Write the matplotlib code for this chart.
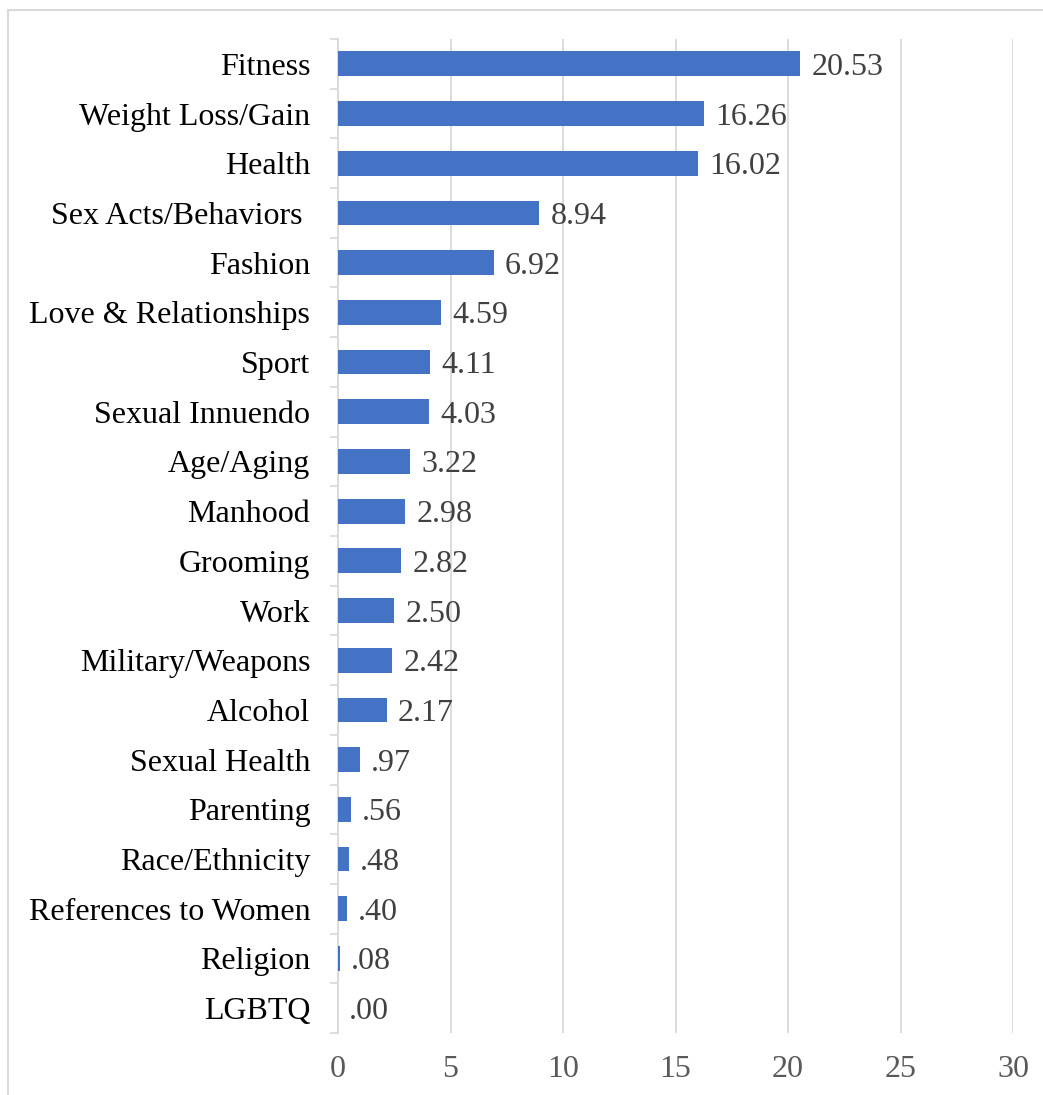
import matplotlib
matplotlib.use("Agg")
import matplotlib.pyplot as plt
from matplotlib.patches import Rectangle

categories = ["Fitness", "Weight Loss/Gain", "Health", "Sex Acts/Behaviors ", "Fashion",
              "Love & Relationships", "Sport", "Sexual Innuendo", "Age/Aging", "Manhood",
              "Grooming", "Work", "Military/Weapons", "Alcohol", "Sexual Health",
              "Parenting", "Race/Ethnicity", "References to Women", "Religion", "LGBTQ"]
values = [20.53, 16.26, 16.02, 8.94, 6.92, 4.59, 4.11, 4.03, 3.22, 2.98,
          2.82, 2.50, 2.42, 2.17, 0.97, 0.56, 0.48, 0.40, 0.08, 0.00]
labels = ["20.53", "16.26", "16.02", "8.94", "6.92", "4.59", "4.11", "4.03", "3.22", "2.98",
          "2.82", "2.50", "2.42", "2.17", ".97", ".56", ".48", ".40", ".08", ".00"]
xticks = [0, 5, 10, 15, 20, 25, 30]

plt.rcParams['font.family'] = ['Liberation Serif', 'DejaVu Serif']

W, H = 1043, 1095
fig = plt.figure(figsize=(W / 100, H / 100), dpi=100)
ax = fig.add_axes([338 / W, 1 - 1033 / H, (1013 - 338) / W, (1033 - 39) / H])

n = len(categories)
ypos = list(range(n))
ax.barh(ypos, values, height=0.5, color="#4472C4", zorder=3)
ax.set_ylim(n - 0.5, -0.5)
ax.set_xlim(0, 30)
ax.set_xticks(xticks)
ax.set_xticklabels([str(t) for t in xticks], color="#595959", fontsize=23)
ax.tick_params(axis="x", length=0, pad=16)
ax.set_yticks(ypos)
ax.set_yticklabels(categories, fontsize=23, color="black")
ax.tick_params(axis="y", which="major", length=0, pad=20)
ax.set_yticks([i + 0.5 for i in range(-1, n)], minor=True)
ax.tick_params(axis="y", which="minor", length=6, color="#D9D9D9", width=1.2)
ax.grid(axis="x", color="#D9D9D9", linewidth=1.3, zorder=0)
for s in ["top", "right", "bottom"]:
    ax.spines[s].set_visible(False)
ax.spines["left"].set_color("#D9D9D9")
ax.spines["left"].set_linewidth(1.3)

for y, v, lab in zip(ypos, values, labels):
    ax.text(v + 0.5, y, lab, va="center_baseline", ha="left", fontsize=23, color="#404040", zorder=4)

fig.patches.append(Rectangle((8 / W, -0.01), 1.1, 1 - 10 / H + 0.01, transform=fig.transFigure,
                             fill=False, edgecolor="#D9D9D9", linewidth=1.5))
fig.savefig("out.png", dpi=100)
